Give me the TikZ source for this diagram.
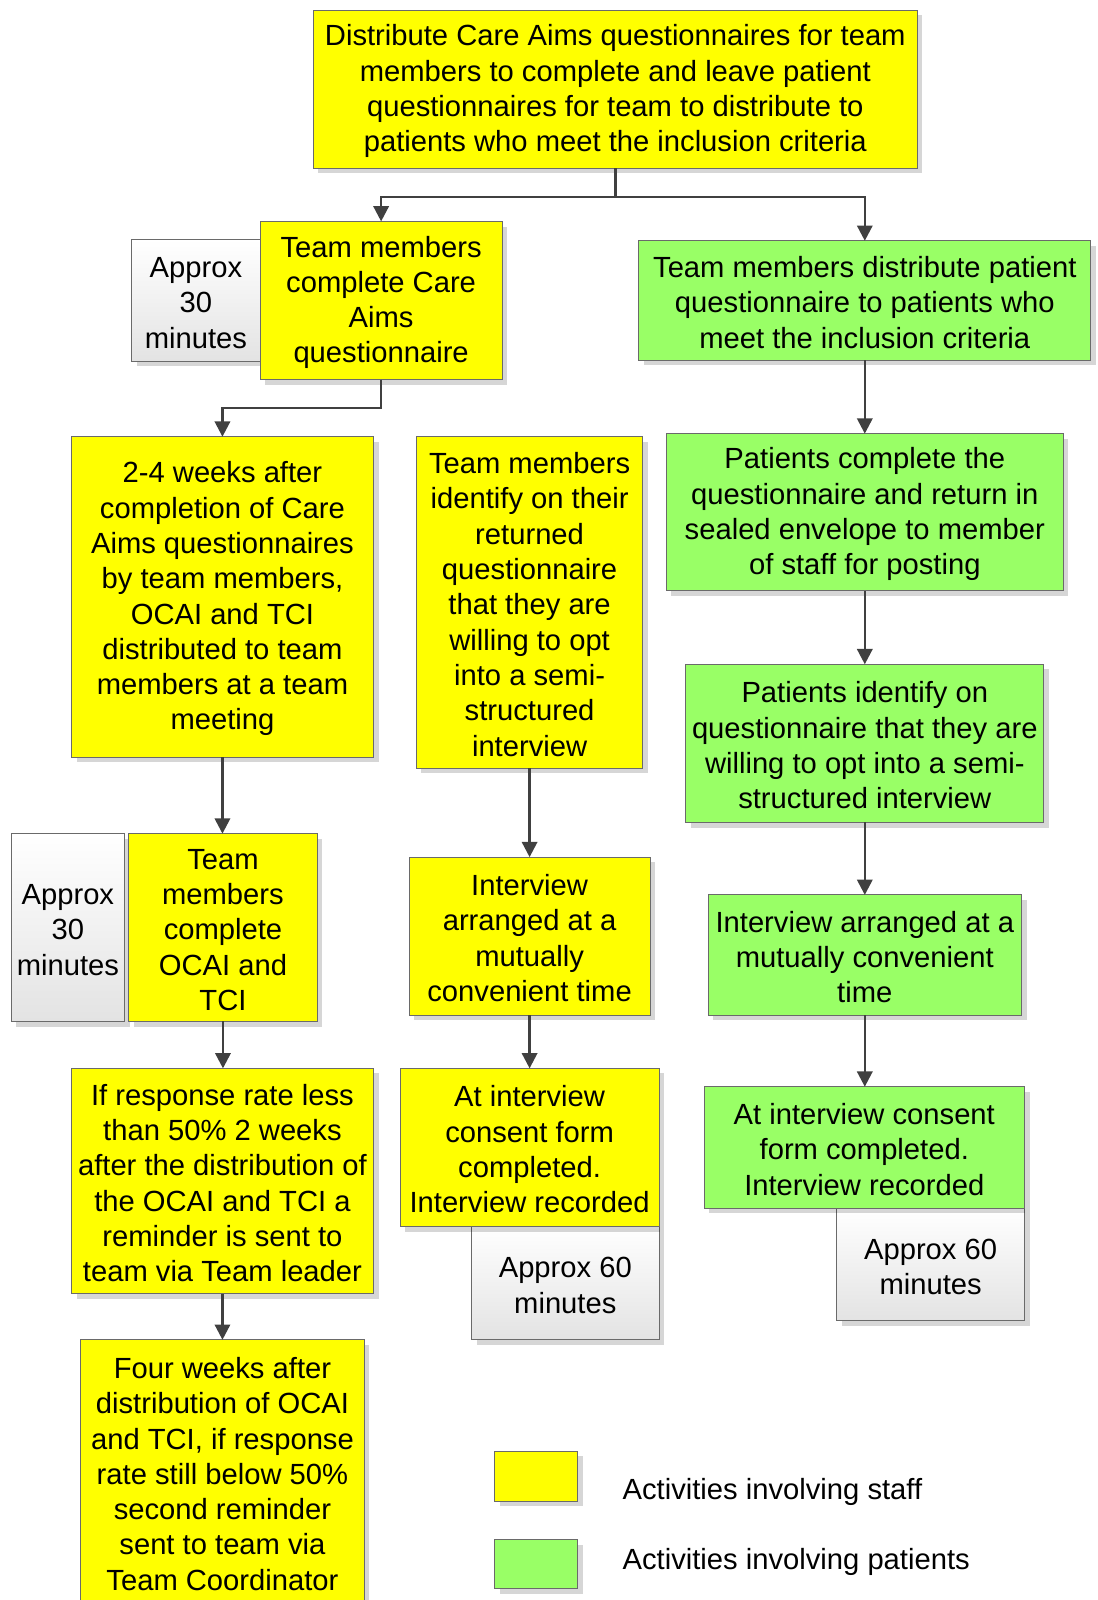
\documentclass[tikz,border=0pt]{standalone}
\usepackage{fontspec}
\setmainfont{Liberation Sans}
\usetikzlibrary{arrows.meta,shadows}
\definecolor{staffyellow}{HTML}{FFFF00}
\definecolor{patientgreen}{HTML}{99FF66}
\definecolor{edgegray}{HTML}{6A6A6A}
\definecolor{linkgray}{HTML}{404040}
% tall strut at the start of a box text, so the lines sit a little lower
\newcommand\toprise{\rule{0pt}{24.5pt}}
\begin{document}
\begin{tikzpicture}[x=1pt,y=-1pt,
  every node/.style={font=\fontsize{28.6}{34.6}\selectfont, align=center},
  card/.style={draw=edgegray, line width=0.9pt, rectangle, inner sep=0pt, outer sep=0pt,
    anchor=north west,
    drop shadow={shadow xshift=5pt, shadow yshift=-5pt, fill=black, opacity=0.16}},
  staff/.style={card, fill=staffyellow},
  patient/.style={card, fill=patientgreen},
  timing/.style={card, top color=white, bottom color=black!11},
  arr/.style={draw=linkgray, line width=2.5pt, -{Triangle[width=15pt,length=15pt]}},
  legendtext/.style={anchor=west, align=left, inner sep=0pt}
]
\useasboundingbox (0,0) rectangle (1076,1568);

% top instruction box
\node[staff, minimum width=592, minimum height=155] (top) at (307,10)
  {\toprise Distribute Care Aims questionnaires for team\\members to complete and leave patient\\questionnaires for team to distribute to\\patients who meet the inclusion criteria};

% staff branch
\node[timing, minimum width=126, minimum height=119] (t30a) at (129,235) {\toprise Approx\\30\\minutes};
\node[staff, minimum width=237, minimum height=155] (careaims) at (255,217)
  {\toprise Team members\\complete Care\\Aims\\questionnaire};
\node[staff, minimum width=296, minimum height=314] (weeks) at (70,428)
  {\toprise 2-4 weeks after\\completion of Care\\Aims questionnaires\\by team members,\\OCAI and TCI\\distributed to team\\members at a team\\meeting};
\node[timing, minimum width=111, minimum height=184] (t30b) at (11,817) {\toprise Approx\\30\\minutes};
\node[staff, minimum width=185, minimum height=184] (ocai) at (126,817)
  {\toprise Team\\members\\complete\\OCAI and\\TCI};
\node[staff, minimum width=296, minimum height=221] (remindone) at (70,1047)
  {\toprise If response rate less\\than 50\% 2 weeks\\after the distribution of\\the OCAI and TCI a\\reminder is sent to\\team via Team leader};
\node[staff, minimum width=278, minimum height=259] (remindtwo) at (79,1313)
  {\toprise Four weeks after\\distribution of OCAI\\and TCI, if response\\rate still below 50\%\\second reminder\\sent to team via\\Team Coordinator};

% staff interview branch
\node[staff, minimum width=222, minimum height=325] (identify) at (408,428)
  {\toprise Team members\\identify on their\\returned\\questionnaire\\that they are\\willing to opt\\into a semi-\\structured\\interview};
\node[staff, minimum width=236, minimum height=155] (arranged) at (401,840)
  {\toprise Interview\\arranged at a\\mutually\\convenient time};
\node[timing, minimum width=184, minimum height=111] (t60a) at (462,1202) {\toprise Approx 60\\minutes};
\node[staff, minimum width=254, minimum height=155] (consent) at (392,1047)
  {\toprise At interview\\consent form\\completed.\\Interview recorded};

% patient branch
\node[patient, minimum width=443, minimum height=117] (distribute) at (626,236)
  {\toprise Team members distribute patient\\questionnaire to patients who\\meet the inclusion criteria};
\node[patient, minimum width=389, minimum height=154] (patcomplete) at (653,425)
  {\toprise Patients complete the\\questionnaire and return in\\sealed envelope to member\\of staff for posting};
\node[patient, minimum width=351, minimum height=155] (patidentify) at (672,651)
  {\toprise Patients identify on\\questionnaire that they are\\willing to opt into a semi-\\structured interview};
\node[patient, minimum width=307, minimum height=118] (patarranged) at (694,877)
  {\toprise Interview arranged at a\\mutually convenient\\time};
\node[timing, minimum width=184, minimum height=110] (t60b) at (820,1184) {\toprise Approx 60\\minutes};
\node[patient, minimum width=314, minimum height=119] (patconsent) at (690,1065)
  {\toprise At interview consent\\form completed.\\Interview recorded};

% legend
\node[staff, minimum width=81, minimum height=49] (keystaff) at (485,1422) {};
\node[patient, minimum width=81, minimum height=48] (keypatient) at (485,1509) {};
\node[legendtext] (keystafftext) at (610,1462) {Activities involving staff};
\node[legendtext] (keypatienttext) at (610,1531) {Activities involving patients};

% connectors
\draw[arr] (top.south) -- ++(0,28) -| (careaims.north);
\draw[arr] (top.south) -- ++(0,28) -| (distribute.north);
\draw[arr] (careaims.south) -- ++(0,28) -| (weeks.north);
\draw[arr] (weeks.south) -- (weeks.south |- ocai.north);
\draw[arr] (ocai.south) -- (ocai.south |- remindone.north);
\draw[arr] (remindone.south) -- (remindone.south |- remindtwo.north);
\draw[arr] (identify.south) -- (identify.south |- arranged.north);
\draw[arr] (arranged.south) -- (arranged.south |- consent.north);
\draw[arr] (distribute.south) -- (distribute.south |- patcomplete.north);
\draw[arr] (patcomplete.south) -- (patcomplete.south |- patidentify.north);
\draw[arr] (patidentify.south) -- (patidentify.south |- patarranged.north);
\draw[arr] (patarranged.south) -- (patarranged.south |- patconsent.north);
\end{tikzpicture}
\end{document}
